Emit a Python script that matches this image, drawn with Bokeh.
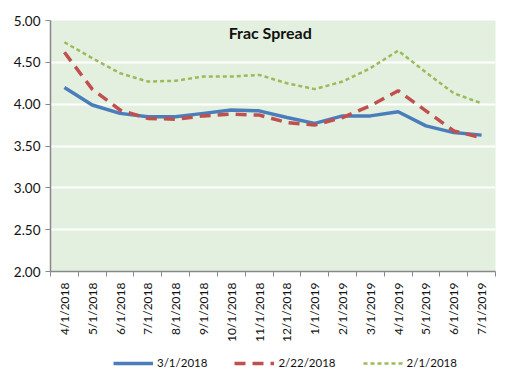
from bokeh.plotting import figure
from bokeh.layouts import column
from bokeh.models import (ColumnDataSource, FixedTicker, Legend, LegendItem, Label, Range1d,
                          NumeralTickFormatter)
from bokeh.embed import file_html
from bokeh.resources import INLINE
import math

categories = ["4/1/2018", "5/1/2018", "6/1/2018", "7/1/2018", "8/1/2018", "9/1/2018",
              "10/1/2018", "11/1/2018", "12/1/2018", "1/1/2019", "2/1/2019", "3/1/2019",
              "4/1/2019", "5/1/2019", "6/1/2019", "7/1/2019"]
s_0301 = [4.20, 3.99, 3.89, 3.85, 3.85, 3.89, 3.93, 3.92, 3.84, 3.77, 3.86, 3.86, 3.91, 3.74, 3.66, 3.63]
s_0222 = [4.62, 4.18, 3.93, 3.83, 3.82, 3.86, 3.88, 3.87, 3.78, 3.75, 3.84, 3.98, 4.16, 3.92, 3.68, 3.60]
s_0201 = [4.74, 4.55, 4.37, 4.27, 4.28, 4.33, 4.33, 4.35, 4.25, 4.18, 4.27, 4.43, 4.64, 4.38, 4.13, 4.01]
series_names = ["3/1/2018", "2/22/2018", "2/1/2018"]
y_ticks = [2.0, 2.5, 3.0, 3.5, 4.0, 4.5, 5.0]
title_text = "Frac Spread"

x = list(range(len(categories)))
src = ColumnDataSource(dict(x=x, a=s_0301, b=s_0222, c=s_0201))

FONT = "Lato"
styles = [dict(line_color="#4a7ebb", line_width=3.5),
          dict(line_color="#c0504d", line_width=3.5, line_dash="11 7"),
          dict(line_color="#9bbb59", line_width=2.5, line_dash="4 3")]
cols = ["a", "b", "c"]

p = figure(width=516, height=345, output_backend="svg", toolbar_location=None,
           x_range=Range1d(-0.5, len(categories) - 0.5), y_range=Range1d(2.0, 5.0),
           min_border_left=50, min_border_right=21, min_border_top=20, min_border_bottom=74)
p.background_fill_color = "#e3f0e0"
p.border_fill_color = "white"
p.outline_line_color = None

for c, st in zip(cols, styles):
    p.line("x", c, source=src, **st)

# x axis
xa = p.xaxis[0]
xa.ticker = FixedTicker(ticks=x, minor_ticks=[i - 0.5 for i in range(len(categories) + 1)])
xa.major_label_overrides = {i: c for i, c in enumerate(categories)}
xa.major_label_orientation = math.pi / 2
xa.major_tick_out = 0
xa.major_tick_in = 0
xa.minor_tick_out = 5
xa.minor_tick_in = 0
xa.minor_tick_line_color = "#888888"
xa.axis_line_color = "#888888"
xa.axis_line_width = 1.5
xa.major_label_text_font = FONT
xa.major_label_text_font_size = "12px"
xa.major_label_text_color = "#111111"
xa.major_label_standoff = 6

ya = p.yaxis[0]
ya.ticker = FixedTicker(ticks=y_ticks)
ya.formatter = NumeralTickFormatter(format="0.00")
ya.major_tick_out = 5
ya.major_tick_in = 0
ya.minor_tick_out = 0
ya.minor_tick_in = 0
ya.major_tick_line_color = "#888888"
ya.axis_line_color = "#888888"
ya.axis_line_width = 1.5
ya.major_label_text_font = FONT
ya.major_label_text_font_size = "13.5px"
ya.major_label_text_color = "#111111"
ya.major_label_standoff = 5

p.xgrid.grid_line_color = None
p.ygrid.grid_line_color = "white"
p.ygrid.grid_line_width = 2
p.ygrid.ticker = FixedTicker(ticks=y_ticks[1:])

p.add_layout(Label(x=(len(categories) - 1) / 2 - 0.1, y=4.86, text=title_text, text_align="center",
                   text_baseline="middle", text_font=FONT, text_font_style="bold",
                   text_font_size="16px", text_color="#111111"))

# legend strip below the chart (its lines lie outside its visible range)
lg = figure(width=516, height=32, output_backend="svg", toolbar_location=None,
            x_axis_type=None, y_axis_type=None, x_range=Range1d(100, 101), y_range=Range1d(100, 101),
            min_border_left=0, min_border_right=0, min_border_top=0, min_border_bottom=0)
lg.outline_line_color = None
lg.background_fill_color = "white"
lg.grid.visible = False
rs = [lg.line("x", c, source=src, **st) for c, st in zip(cols, styles)]
legend = Legend(items=[LegendItem(label=n, renderers=[r]) for n, r in zip(series_names, rs)],
                orientation="horizontal", location=(63, 8),
                border_line_color=None, background_fill_alpha=0,
                label_text_font=FONT, label_text_font_size="11.5px", label_text_color="#111111",
                glyph_width=40, glyph_height=12, spacing=27, label_standoff=4,
                margin=0, padding=4)
lg.add_layout(legend, "center")

open("out.html", "w").write(file_html(column(p, lg), INLINE))
